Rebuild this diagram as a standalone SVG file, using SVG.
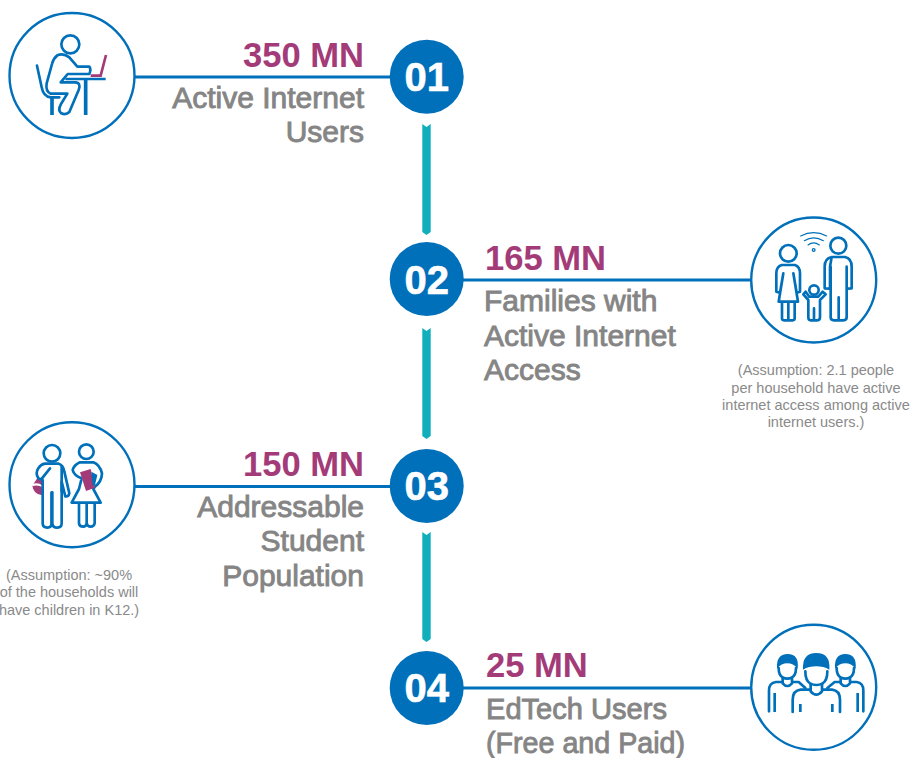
<svg xmlns="http://www.w3.org/2000/svg" width="912" height="758" viewBox="0 0 912 758">
<style>
.ring{fill:#fff;stroke:#0070ba;stroke-width:2.4}
.line{stroke:#0070ba;stroke-width:3;fill:none}
.dot{fill:#0070ba}
.num{font:bold 40px "Liberation Sans",Arial,sans-serif;fill:#fff;text-anchor:middle;stroke:#fff;stroke-width:.6}
.big{font:bold 34.6px "Liberation Sans",Arial,sans-serif;fill:#a33b78}
.lbl{font:30px "Liberation Sans",Arial,sans-serif;fill:#858585;stroke:#858585;stroke-width:.9}
.note{font:14.500px "Liberation Sans",Arial,sans-serif;fill:#8a8a8a;text-anchor:middle}
.end{text-anchor:end}
.i{fill:none;stroke:#0070ba;stroke-width:8;stroke-linejoin:round;stroke-linecap:round}
.w{fill:#fff}
.ib{fill:none;stroke:#0070ba;stroke-width:11}
.p{fill:none;stroke:#a33b78;stroke-width:8}
.pf{fill:#a33b78}
.bf{fill:#0070ba}
.teal{fill:#11aebb}
</style>
<g id="connectors">
<line class="line" x1="134" y1="77" x2="392" y2="77"/>
<line class="line" x1="462" y1="280" x2="752" y2="280"/>
<line class="line" x1="134" y1="486.500" x2="392" y2="486.500"/>
<line class="line" x1="462" y1="688" x2="752" y2="688"/>
<polygon class="teal" points="422.300,124 426.500,127 430.700,124 430.700,232 426.500,235 422.300,232"/>
<polygon class="teal" points="422.300,328 426.500,331 430.700,328 430.700,436 426.500,439 422.300,436"/>
<polygon class="teal" points="422.300,532 426.500,535 430.700,532 430.700,639 426.500,642 422.300,639"/>
</g>
<g id="node-01">
<circle class="ring" cx="72" cy="75.500" r="62.500"/>
<g transform="scale(.33333)">
<circle class="i" cx="211" cy="133" r="27"/>
<path class="i" d="M268 200H232L208 172Q190 158 172 166Q160 175 156 192L140 250Q136 275 152 281H202L183 312Q172 332 184 340Q198 346 208 336L236 270Q244 248 226 247H182L203 222H268Q274 208 268 200Z"/>
<path class="i" d="M111 197L125 262Q130 290 152 292H178"/>
<path class="ib" d="M156 292V345M257 237V345"/>
<path class="ib" d="M196 237H317" style="stroke-width:8"/>
<path class="p" d="M272 227H302L318 165"/>
</g>
<text class="big end" x="364" y="67">350 MN</text>
<text class="lbl end" x="364" y="108">Active Internet</text>
<text class="lbl end" x="364" y="142">Users</text>
<circle class="dot" cx="426.700" cy="76.700" r="37"/>
<text class="num" x="426.700" y="91">01</text>
</g>
<g id="node-02">
<circle class="ring" cx="813.700" cy="280" r="62.500"/>
<g transform="translate(740 210) scale(.33333)">
<circle class="i" cx="145" cy="130" r="25"/>
<path class="i" d="M125 165H165Q180 170 180 190V245L170 248L160 190L174 275H116L130 190L120 248L109 245V190Q109 170 125 165ZM126 275V325Q126 331 132 331H158Q164 331 164 325V275M145 278V331"/>
<circle class="i" cx="295" cy="107" r="24"/>
<path class="i" d="M275 141H315Q335 145 335 170V235L320 236V170M270 170V236L254 235V170Q254 145 275 141ZM272 170V322Q272 331 282 331H310Q320 331 320 322V170M296 262V331"/>
<circle class="i" cx="222" cy="240" r="14"/>
<path class="i" d="M190 253L205 270V322Q205 331 212 331H232Q240 331 240 322V270L257 253L248 245L235 260H208L197 245ZM222 295V331"/>
<path class="i" style="stroke-width:3.500" d="M182 78Q221 58 260 78M193 92Q221 75 250 92M204 105Q221 92 238 105"/>
<circle class="i" style="stroke-width:4" cx="221" cy="120" r="4"/>
</g>
<circle class="dot" cx="426.700" cy="279" r="37"/>
<text class="num" x="426.700" y="294">02</text>
<text class="big" x="485" y="270">165 MN</text>
<text class="lbl" x="484" y="311">Families with</text>
<text class="lbl" x="484" y="346">Active Internet</text>
<text class="lbl" x="484" y="380">Access</text>
<text class="note" x="816" y="375">(Assumption: 2.1 people</text>
<text class="note" x="816" y="393">per household have active</text>
<text class="note" x="816" y="410">internet access among active</text>
<text class="note" x="816" y="427">internet users.)</text>
</g>
<g id="node-03">
<circle class="ring" cx="72" cy="484.700" r="62.500"/>
<g transform="translate(0 415) scale(.33333)">
<path class="pf" d="M118 180L97 212Q100 236 124 240L140 235L135 190Z"/>
<path d="M97 208Q112 200 128 212L128 217Q112 208 97 214Z" fill="#fff"/>
<circle class="i" cx="156" cy="115" r="25"/>
<path class="i w" d="M135 146H176Q190 150 193 170L208 235Q206 246 196 244L185 200V325Q185 338 172 338Q158 338 157 325V232H155V325Q155 338 142 338Q128 338 128 325V195L115 190Q105 175 115 160Q122 148 135 146Z"/>
<path class="i" d="M150 160L126 190"/>
<path class="ib" d="M155 232V330M185 150V230" style="stroke-width:8"/>
<circle class="i" cx="259" cy="110" r="22"/>
<path class="i" d="M240 142Q222 150 218 165Q222 182 245 190L237 222L215 263H302L280 222L285 215Q305 200 306 175Q300 150 280 142ZM237 265V325Q238 335 250 335Q258 335 260 325V265M260 325Q262 335 272 335Q282 335 284 325V265"/>
<path class="pf" d="M240 172L272 162L285 218L258 228Z"/>
<path class="bf" d="M274 170L292 180L285 210L278 212Z"/>
</g>
<text class="big end" x="364" y="476">150 MN</text>
<text class="lbl end" x="364" y="517">Addressable</text>
<text class="lbl end" x="364" y="551">Student</text>
<text class="lbl end" x="364" y="586">Population</text>
<circle class="dot" cx="426.700" cy="486" r="37"/>
<text class="num" x="426.700" y="500">03</text>
<text class="note" x="69" y="580">(Assumption: ~90%</text>
<text class="note" x="69" y="597">of the households will</text>
<text class="note" x="69" y="615">have children in K12.)</text>
</g>
<g id="node-04">
<circle class="ring" cx="813.700" cy="687.300" r="62.500"/>
<g transform="translate(740 618) scale(.33333)">
<path class="bf" d="M111 152Q108 108 143 108Q178 108 173 152Q160 136 142 136Q124 136 111 152Z"/>
<path class="i" d="M116 150Q116 172 128 178Q142 186 156 178Q168 172 168 150"/>
<path class="i" d="M128 180V196Q142 212 156 196V180M128 192H108Q87 194 87 218V280M156 192H176L196 210"/>
<path class="ib" style="stroke-width:8" d="M104 225V282"/>
<path class="bf" d="M285 152Q282 108 316 108Q351 108 347 152Q334 136 316 136Q298 136 285 152Z"/>
<path class="i" d="M290 150Q290 172 302 178Q316 186 330 178Q342 172 342 150"/>
<path class="i" d="M302 180V196Q316 212 330 196V180M330 192H350Q370 194 370 218V280M302 192H284L262 210"/>
<path class="ib" style="stroke-width:8" d="M353 225V282"/>
<path class="bf" d="M189 155Q186 105 229 105Q272 105 268 155Q250 145 229 145Q207 145 189 155Z"/>
<path class="i" d="M196 160Q196 188 210 196Q229 206 248 196Q262 188 262 160"/>
<path class="i" d="M212 198V220Q229 240 246 220V198M212 215H182Q158 218 158 245V282M246 215H276Q300 218 300 245V282"/>
<path class="ib" style="stroke-width:8" d="M181 258V282M277 258V282"/>
</g>
<circle class="dot" cx="426.700" cy="688" r="37"/>
<text class="num" x="426.700" y="702">04</text>
<text class="big" x="486" y="677">25 MN</text>
<text class="lbl" x="486" y="719" textLength="181" lengthAdjust="spacingAndGlyphs">EdTech Users</text>
<text class="lbl" x="486" y="753" textLength="199" lengthAdjust="spacingAndGlyphs">(Free and Paid)</text>
</g>
</svg>
